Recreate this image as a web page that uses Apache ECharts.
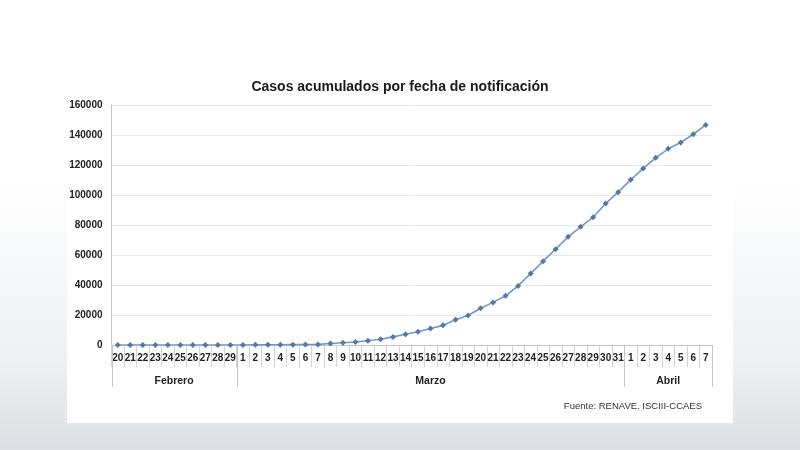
<!DOCTYPE html>
<html>
<head>
<meta charset="utf-8">
<script src="https://cdn.jsdelivr.net/npm/echarts@6/dist/echarts.min.js"></script>
<style>html,body{margin:0;padding:0;background:#fff}#c{width:800px;height:450px}</style>
</head>
<body>
<div id="c"></div>
<script>
const titleText = 'Casos acumulados por fecha de notificación';
const sourceText = 'Fuente: RENAVE. ISCIII-CCAES';
const febDays = ['20','21','22','23','24','25','26','27','28','29'];
const marDays = ['1','2','3','4','5','6','7','8','9','10','11','12','13','14','15','16','17','18','19','20','21','22','23','24','25','26','27','28','29','30','31'];
const aprDays = ['1','2','3','4','5','6','7'];
const months = ['Febrero','Marzo','Abril'];
const febValues = [0,0,0,0,1,2,2,3,12,32];
const marValues = [45,84,120,165,228,282,401,1000,1450,2000,2800,3800,5400,7200,8800,11000,13100,16800,19700,24500,28400,32800,39400,47600,55900,63900,72100,78800,85200,94300,101900];
const aprValues = [110100,117700,124800,130800,135000,140500,146700];
const yTicks = {min:0, max:160000, interval:20000};

const days = febDays.concat(marDays, aprDays);
const values = febValues.concat(marValues, aprValues);
const groups = [febDays.length, marDays.length, aprDays.length];

const FONT = '"Liberation Sans",Arial,sans-serif';
const chart = echarts.init(document.getElementById('c'), null, {renderer:'canvas'});
chart.setOption({
  animation:false,
  backgroundColor:{type:'linear',x:0,y:0,x2:0,y2:1,colorStops:[
    {offset:0,color:'#ffffff'},{offset:0.4,color:'#ffffff'},{offset:0.8,color:'#eef0f3'},{offset:1,color:'#dcdfe3'}]},
  title:{text:titleText,left:'center',top:75,textStyle:{fontFamily:FONT,fontSize:14,fontWeight:'bold',color:'#1a1a1a'}},
  grid:{left:111.5,right:88,top:105,bottom:105,containLabel:false},
  xAxis:{type:'category',data:days,boundaryGap:true,
    axisLine:{show:true,lineStyle:{color:'#c4c4c4',width:1}},
    axisTick:{show:true,interval:0,length:22,lineStyle:{color:'#d4d4d4'}},
    axisLabel:{interval:0,margin:8,fontFamily:FONT,fontSize:10,fontWeight:'bold',color:'#222'}},
  yAxis:{type:'value',min:yTicks.min,max:yTicks.max,interval:yTicks.interval,
    axisLine:{show:true,lineStyle:{color:'#c4c4c4'}},
    axisTick:{show:false},
    splitLine:{lineStyle:{color:'#e8e8e8'}},
    axisLabel:{margin:9,fontFamily:FONT,fontSize:10,fontWeight:'bold',color:'#222',formatter:v => String(v)}},
  series:[{type:'line',data:values,symbol:'diamond',symbolSize:6,
    itemStyle:{color:'#5479a6'},lineStyle:{color:'#7499c3',width:1.6},z:5}]
});

function draw(){
  const px = i => chart.convertToPixel({xAxisIndex:0}, i);
  const bw = px(1) - px(0);
  const y0 = chart.convertToPixel({yAxisIndex:0}, 0);
  const bottomY = y0 + 42;
  const els = [];
  els.push({type:'rect',shape:{x:67,y:0,width:666,height:423},style:{fill:'#ffffff'},z:-10,silent:true});
  let start = 0;
  const bounds = [px(0) - bw/2];
  groups.forEach(n => { start += n; bounds.push(px(start-1) + bw/2); });
  bounds.forEach(x => {
    els.push({type:'line',shape:{x1:Math.round(x)+0.5,y1:y0,x2:Math.round(x)+0.5,y2:bottomY},style:{stroke:'#c4c4c4',lineWidth:1},z:1,silent:true});
  });
  months.forEach((m,k) => {
    els.push({type:'text',x:(bounds[k]+bounds[k+1])/2,y:y0+36,style:{text:m,fontFamily:FONT,fontSize:10.5,fontWeight:'bold',fill:'#222',align:'center',verticalAlign:'middle'},z:2,silent:true});
  });
  els.push({type:'text',x:702,y:406,style:{text:sourceText,fontFamily:FONT,fontSize:9.5,fill:'#333',align:'right',verticalAlign:'middle'},z:2,silent:true});
  chart.setOption({graphic:{elements:els}});
}
draw();
</script>
</body>
</html>
